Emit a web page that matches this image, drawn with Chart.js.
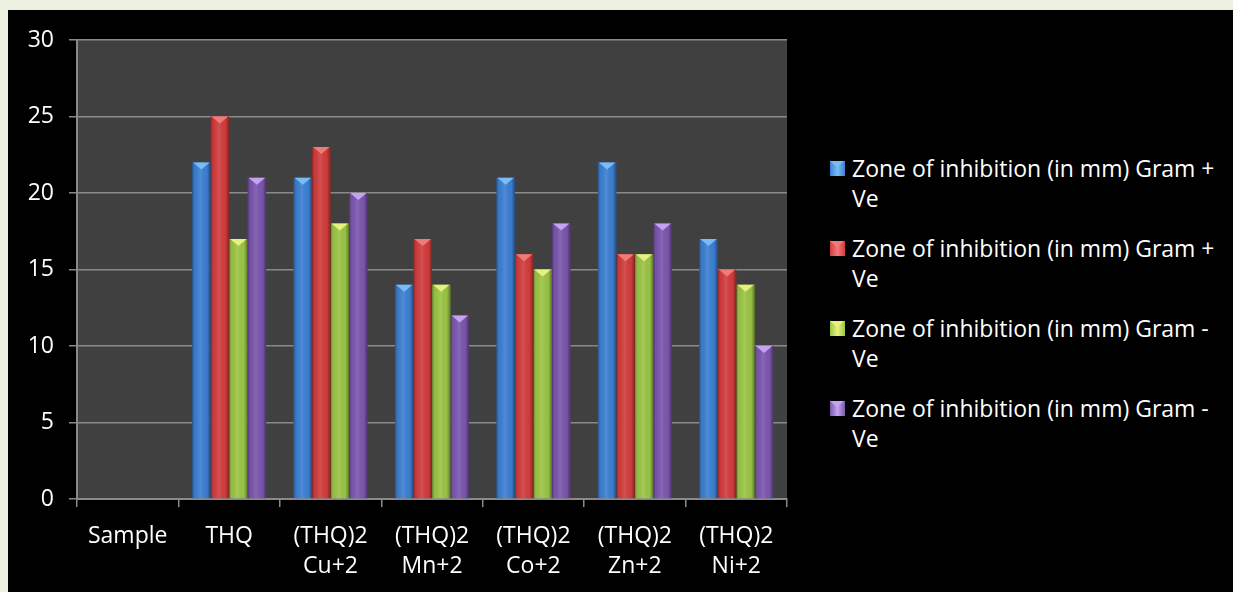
<!DOCTYPE html>
<html>
<head>
<meta charset="utf-8">
<script src="https://cdn.jsdelivr.net/npm/chart.js@4.4.1/dist/chart.umd.min.js"></script>
<style>
  html, body { margin: 0; padding: 0; background: #ebf1de; }
  body { width: 1233px; height: 592px; position: relative; overflow: hidden; font-family: "Open Sans", sans-serif; }
  #panel { position: absolute; left: 8px; top: 10px; width: 1225px; height: 582px; background: #000; }
  #wrap { position: absolute; left: 0; top: 0; width: 800px; height: 582px; }
  #legend { position: absolute; left: 822px; top: 0; color: #fff; font-size: 23px; }
  .item { position: absolute; left: 0; width: 420px; line-height: 30px; }
  .mark { position: absolute; left: 0; top: 8px; width: 15px; height: 15px; overflow: hidden; }
  .mark i { position: absolute; left: 0; top: 0; width: 0; height: 0;
            border-left: 7.5px solid transparent; border-right: 7.5px solid transparent; border-top: 6px solid; }
  .txt { position: absolute; left: 22px; top: 0; white-space: nowrap; }
</style>
</head>
<body>
<div id="panel">
  <div id="wrap"><canvas id="c"></canvas></div>
  <div id="legend"></div>
</div>
<script>
// Antibacterial activity — zone of inhibition per compound

const categories = ['Sample', 'THQ', ['(THQ)2', 'Cu+2'], ['(THQ)2', 'Mn+2'], ['(THQ)2', 'Co+2'], ['(THQ)2', 'Zn+2'], ['(THQ)2', 'Ni+2']];
const seriesLabels = [
  'Zone of inhibition (in mm) Gram + Ve',
  'Zone of inhibition (in mm) Gram + Ve',
  'Zone of inhibition (in mm) Gram - Ve',
  'Zone of inhibition (in mm) Gram - Ve',
];
const gramPos1 = [null, 22, 21, 14, 21, 22, 17];
const gramPos2 = [null, 25, 23, 17, 16, 16, 15];
const gramNeg1 = [null, 17, 18, 14, 15, 16, 14];
const gramNeg2 = [null, 21, 20, 12, 18, 18, 10];
const yTicks = [0, 5, 10, 15, 20, 25, 30];

const fills = ['#3c7fd2', '#d23c3c', '#9bc545', '#7b56ae'];
const tops  = ['#78bdf8', '#f07a7a', '#e6f27c', '#c4a4f0'];
const series = [gramPos1, gramPos2, gramNeg1, gramNeg2];

// plot background
const plotBg = {
  id: 'plotBg',
  beforeDraw(chart) {
    const { ctx, chartArea: a } = chart;
    ctx.save();
    ctx.fillStyle = '#404040';
    ctx.fillRect(a.left, a.top, a.right - a.left, a.bottom - a.top);
    ctx.restore();
  },
};

// cylinder shading + bevelled top on each bar
const bevel = {
  id: 'bevel',
  afterDatasetsDraw(chart) {
    const ctx = chart.ctx;
    chart.data.datasets.forEach((ds, i) => {
      const meta = chart.getDatasetMeta(i);
      meta.data.forEach((el, j) => {
        if (ds.data[j] == null) return;
        const { x, y, base, width } = el.getProps(['x', 'y', 'base', 'width'], true);
        const l = x - width / 2;
        const g = ctx.createLinearGradient(l, 0, l + width, 0);
        g.addColorStop(0, 'rgba(0,0,0,0.35)');
        g.addColorStop(0.12, 'rgba(0,0,0,0.05)');
        g.addColorStop(0.45, 'rgba(255,255,255,0.10)');
        g.addColorStop(0.8, 'rgba(0,0,0,0.02)');
        g.addColorStop(1, 'rgba(0,0,0,0.40)');
        ctx.save();
        ctx.fillStyle = g;
        ctx.fillRect(l, y, width, base - y);
        ctx.fillStyle = tops[i];
        ctx.beginPath();
        ctx.moveTo(l + 1, y);
        ctx.lineTo(l + width - 1, y);
        ctx.lineTo(x, y + 7);
        ctx.closePath();
        ctx.fill();
        ctx.restore();
      });
    });
  },
};

const tickFont = { family: 'Open Sans', size: 23, lineHeight: 30 / 23 };

const chart = new Chart(document.getElementById('c'), {
  type: 'bar',
  data: {
    labels: categories,
    datasets: series.map((d, i) => ({
      label: seriesLabels[i],
      data: d,
      backgroundColor: fills[i],
      borderWidth: 0,
      barPercentage: 1,
      categoryPercentage: 0.73,
    })),
  },
  options: {
    responsive: true,
    maintainAspectRatio: false,
    animation: false,
    layout: { padding: { top: 30, right: 21, left: 0, bottom: 0 } },
    plugins: { legend: { display: false }, tooltip: { enabled: false } },
    scales: {
      x: {
        grid: { display: true, drawOnChartArea: false, drawTicks: true, tickLength: 8, color: '#8a8a8a', lineWidth: 1.5, offset: true },
        border: { color: '#8a8a8a', width: 2 },
        ticks: { color: '#fff', font: tickFont, padding: 14, maxRotation: 0, autoSkip: false },
        afterFit(s) { s.height = 93; },
      },
      y: {
        min: 0, max: 30,
        afterBuildTicks(s) { s.ticks = yTicks.map(v => ({ value: v })); },
        grid: { color: '#8a8a8a', lineWidth: 1.5, tickLength: 8 },
        border: { color: '#8a8a8a', width: 2 },
        ticks: { color: '#fff', font: { family: 'Open Sans', size: 23 }, padding: 15 },
        afterFit(s) { s.width = 69; },
      },
    },
  },
  plugins: [plotBg, bevel],
});

// HTML legend, two lines per entry like the original
const legend = document.getElementById('legend');
seriesLabels.forEach((lab, i) => {
  const cut = lab.lastIndexOf(' ');
  const item = document.createElement('div');
  item.className = 'item';
  item.style.top = (143 + i * 80) + 'px';
  item.innerHTML =
    '<div class="mark" style="background:linear-gradient(90deg,' + fills[i] + ',' + tops[i] + ' 50%,' + fills[i] + ')"><i style="border-top-color:' + tops[i] + '"></i></div>' +
    '<div class="txt">' + lab.slice(0, cut) + '<br>' + lab.slice(cut + 1) + '</div>';
  legend.appendChild(item);
});
</script>
</body>
</html>
